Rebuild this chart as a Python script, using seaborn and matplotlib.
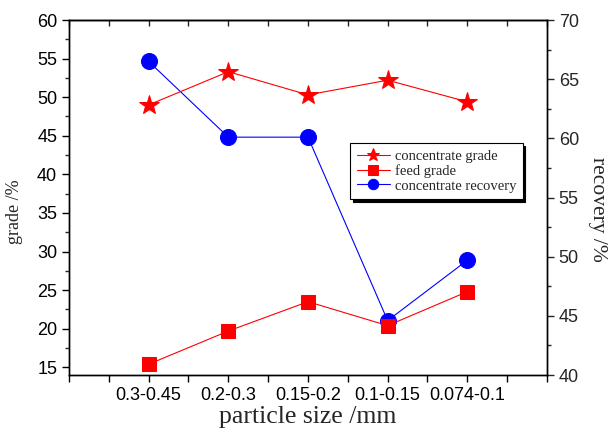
import numpy as np
import matplotlib
matplotlib.use("Agg")
import matplotlib.pyplot as plt
from matplotlib.ticker import MultipleLocator
import seaborn as sns

# ---- data ----
sizes = ['0.3-0.45', '0.2-0.3', '0.15-0.2', '0.1-0.15', '0.074-0.1']
conc_grade = [49.0, 53.3, 50.3, 52.2, 49.4]
feed_grade = [15.4, 19.7, 23.5, 20.4, 24.8]
conc_recovery = [66.5, 60.1, 60.1, 44.6, 49.7]

sns.set_style("ticks")
plt.rcParams['font.family'] = ['Liberation Sans', 'DejaVu Sans']
serif = ['Liberation Serif', 'DejaVu Serif']

pos = np.arange(1, len(sizes) + 1)

fig = plt.figure(figsize=(6.1, 4.32), dpi=100)
ax = fig.add_axes([0.1131, 0.1319, 0.7836, 0.8218])
ax2 = ax.twinx()

sns.lineplot(x=pos, y=conc_grade, ax=ax, color='#ff0000', lw=0.8,
             marker='*', markersize=15, markeredgecolor='#ff0000',
             label='concentrate grade', legend=False)
sns.lineplot(x=pos, y=feed_grade, ax=ax, color='#ff0000', lw=0.8,
             marker='s', markersize=10.5, markeredgecolor='#ff0000',
             label='feed grade', legend=False)
sns.lineplot(x=pos, y=conc_recovery, ax=ax2, color='#0000ff', lw=0.8,
             marker='o', markersize=11.5, markeredgecolor='#0000ff',
             label='concentrate recovery', legend=False)

# axes limits / ticks
ax.set_xlim(0, 6)
ax.set_ylim(14, 60)
ax2.set_ylim(40, 70)

xt = np.arange(0, 6.01, 0.5)
ax.set_xticks(xt)
ax.set_xticklabels([sizes[int(t) - 1] if (t == int(t) and 1 <= t <= 5) else '' for t in xt])
ax.yaxis.set_major_locator(MultipleLocator(5))
ax.yaxis.set_minor_locator(MultipleLocator(2.5))
ax2.yaxis.set_major_locator(MultipleLocator(5))
ax2.yaxis.set_minor_locator(MultipleLocator(2.5))
ax.set_yticks([15, 20, 25, 30, 35, 40, 45, 50, 55, 60])

ax.tick_params(axis='both', which='major', labelsize=13, length=5, width=1,
               direction='out', colors='black')
ax.tick_params(axis='y', which='minor', length=3, width=1, direction='out')
ax2.tick_params(axis='y', which='major', labelsize=13, length=5, width=1,
                direction='out')
ax2.tick_params(axis='y', which='minor', length=3, width=1, direction='out')

top = ax.secondary_xaxis('top')
top.set_xticks(xt)
top.set_xticklabels([])
top.tick_params(direction='in', length=4, width=1)

for a in (ax, ax2):
    for s in a.spines.values():
        s.set_linewidth(1.0)
        s.set_visible(True)
        s.set_color('black')
for s in top.spines.values():
    s.set_linewidth(1.0)

ax.set_xlabel('particle size /mm', family=serif, fontsize=18.5)
ax.xaxis.set_label_coords(0.5, -0.088)
ax.set_ylabel('grade /%', family=serif, fontsize=13)
ax.yaxis.set_label_coords(-0.097, 0.46)
ax2.set_ylabel('recovery /%', family=serif, fontsize=15.5, rotation=270,
               va='bottom')
ax2.yaxis.set_label_coords(1.085, 0.465)

# legend
h1, l1 = ax.get_legend_handles_labels()
h2, l2 = ax2.get_legend_handles_labels()
leg = ax.legend(h1 + h2, l1 + l2, loc='upper left',
                bbox_to_anchor=(0.588, 0.654), borderaxespad=0,
                prop={'family': serif, 'size': 10.5}, fancybox=False,
                shadow={'color': 'black', 'alpha': 1}, framealpha=1,
                edgecolor='black', markerscale=0.65, handlelength=2.3,
                labelspacing=0.1, handletextpad=0.3, borderpad=0.45)
leg.get_frame().set_linewidth(0.8)
leg.set_zorder(10)
ax.set_zorder(ax2.get_zorder() + 1)
ax.patch.set_visible(False)

fig.savefig('out.png', dpi=100)
